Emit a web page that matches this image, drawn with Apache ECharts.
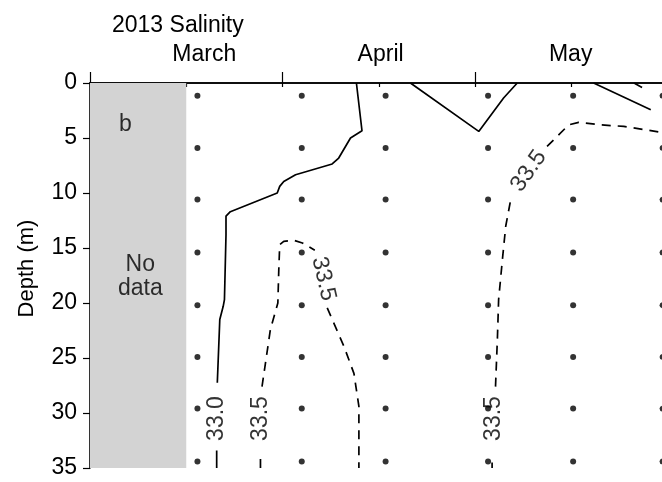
<!DOCTYPE html>
<html>
<head>
<meta charset="utf-8">
<script src="https://cdn.jsdelivr.net/npm/echarts@6/dist/echarts.min.js"></script>
<style>
  html, body { margin: 0; padding: 0; background: #fff; }
  #chart { width: 662px; height: 482px; }
</style>
</head>
<body>
<div id="chart"></div>
<script>
// Time axis: days since 1 March 2013; depth axis in metres (downward).
const months = ['March', 'April', 'May'];
const monthLabelDays = [18.4, 46.8, 77.4];
const monthStartDays = [0, 31, 62, 93];
const noDataDays = [0, 15.5];

// CTD sampling stations (dates) and sampled depths
const sampleDays = [17.3, 34.1, 47.6, 64.1, 77.8, 92.2];
const sampleDepths = [1.15, 5.9, 10.6, 15.4, 20.2, 24.9, 29.6, 34.4];

// 33.0 isohaline (solid)
const iso330Lower = [[20.4, 35], [20.4, 33.4]];
const iso330Upper = [
  [20.5, 27.25], [20.9, 21.5], [21.45, 20.3], [21.65, 19.7], [21.9, 13.8],
  [21.9, 12.1], [22.6, 11.7], [30.15, 10.0], [30.55, 9.4], [31.2, 8.95],
  [33.1, 8.34], [39.0, 7.36], [40.05, 6.82], [41.95, 5.0], [43.8, 4.34], [42.9, 0]
];
const iso330Notch = [[51.6, 0], [62.6, 4.4], [66.6, 1.36], [68.8, 0]];
const iso330East = [[81.1, 0], [90.3, 2.43]];
const iso330EastTip = [[87.6, 0], [88.9, 0.4]];

// 33.5 isohaline (dashed)
const iso335TongueLeftLower = [[27.45, 35], [27.45, 33.8]];
const iso335TongueArc = [
  [27.7, 27.6], [29.05, 22.4], [30.25, 20.0], [30.4, 17.0], [30.55, 14.7],
  [31.2, 14.4], [32.8, 14.3], [34.2, 14.55], [36.2, 15.2]
];
const iso335TongueRight = [
  [38.2, 20.45], [40.9, 23.95], [42.5, 26.4], [43.3, 29.4], [43.3, 35]
];
const iso335MayLower = [[64.75, 35], [64.75, 34.5]];
const iso335MayMid = [
  [65.3, 27.6], [65.6, 23.3], [65.8, 19.7], [66.4, 16.1], [66.95, 13.0], [67.75, 10.6]
];
const iso335MayUpper = [
  [73.6, 5.76], [77.1, 3.8], [78.7, 3.58], [82.2, 3.8], [85.95, 3.95],
  [89.45, 4.25], [92.2, 4.5], [100, 5.0]
];

// Contour labels
const contourLabelPoints = [[20.4, 30.5], [27.45, 30.5], [37.6, 17.8], [65.0, 30.5], [70.65, 8.0]];
const contourLabelTexts = ['33.0', '33.5', '33.5', '33.5', '33.5'];
const contourLabelAngles = [90, 90, -77, 90, 55];

const FONT = '"Liberation Sans", Arial, Helvetica, sans-serif';
const INK = '#000';
const FS = 23;

function contour(data, dashed) {
  return {
    type: 'line',
    data: data,
    showSymbol: false,
    symbol: 'none',
    smooth: false,
    clip: true,
    z: 4,
    silent: true,
    lineStyle: { color: INK, width: 1.7, type: dashed ? [9, 7] : 'solid' }
  };
}

const dots = [];
sampleDays.forEach(d => sampleDepths.forEach(z => dots.push([d, z])));

const labelData = contourLabelPoints.map((p, i) => ({
  value: p,
  label: { formatter: contourLabelTexts[i], rotate: contourLabelAngles[i] }
}));

const chart = echarts.init(document.getElementById('chart'), null, { renderer: 'canvas' });
chart.setOption({
  animation: false,
  backgroundColor: '#fff',
  title: {
    text: '2013 Salinity',
    left: 107, top: 9,
    textStyle: { fontFamily: FONT, fontSize: FS, fontWeight: 'normal', color: INK }
  },
  grid: { left: 90, top: 83, bottom: 14, width: 621, outerBoundsMode: 'none', containLabel: false },
  xAxis: [
    {
      type: 'value', position: 'bottom', min: 0, max: 100, interval: 15.5,
      axisLine: { show: true, lineStyle: { color: INK, width: 1.6 } },
      axisTick: { show: true, inside: false, length: 4, lineStyle: { color: INK, width: 1.2 } },
      axisLabel: { show: false },
      splitLine: { show: false }
    },
    {
      type: 'value', position: 'top', min: 0, max: 100,
      axisLine: { show: true, onZero: false, lineStyle: { color: INK, width: 1.6 } },
      axisTick: { show: true, length: 11, customValues: monthStartDays, lineStyle: { color: INK, width: 1.2 } },
      axisLabel: {
        show: true, customValues: monthLabelDays, margin: 17,
        formatter: v => months[monthLabelDays.indexOf(v)] || '',
        fontFamily: FONT, fontSize: FS, color: INK
      },
      splitLine: { show: false }
    }
  ],
  yAxis: {
    type: 'value', inverse: true, min: 0, max: 35, interval: 5,
    name: 'Depth (m)', nameLocation: 'middle', nameGap: 52,
    nameTextStyle: { fontFamily: FONT, fontSize: FS - 1, color: INK, padding: [0, 0, 0, 14] },
    axisLine: { show: true, onZero: false, lineStyle: { color: INK, width: 1.6 } },
    axisTick: { show: true, length: 7, lineStyle: { color: INK, width: 1.2 } },
    axisLabel: { fontFamily: FONT, fontSize: FS, color: INK, margin: 13 },
    splitLine: { show: false }
  },
  series: [
    {
      type: 'scatter',
      data: dots,
      symbol: 'circle',
      symbolSize: 6,
      itemStyle: { color: INK },
      z: 3,
      silent: true,
      markArea: {
        silent: true,
        itemStyle: { color: '#d3d3d3' },
        data: [[{ xAxis: noDataDays[0] }, { xAxis: noDataDays[1] }]]
      }
    },
    contour(iso330Lower, false),
    contour(iso330Upper, false),
    contour(iso330Notch, false),
    contour(iso330East, false),
    contour(iso330EastTip, false),
    contour(iso335TongueLeftLower, true),
    contour(iso335TongueArc, true),
    contour(iso335TongueRight, true),
    contour(iso335MayLower, true),
    contour(iso335MayMid, true),
    contour(iso335MayUpper, true),
    {
      type: 'scatter',
      data: labelData,
      symbolSize: 0,
      z: 5,
      silent: true,
      label: {
        show: true, position: 'inside', align: 'center', verticalAlign: 'middle',
        fontFamily: FONT, fontSize: 23, color: INK
      }
    },
    {
      type: 'scatter',
      data: [
        { value: [5.7, 3.8], label: { formatter: 'b' } },
        { value: [8.1, 17.6], label: { formatter: 'No\ndata', lineHeight: 24 } }
      ],
      symbolSize: 0,
      z: 5,
      silent: true,
      label: {
        show: true, position: 'inside', align: 'center', verticalAlign: 'middle',
        fontFamily: FONT, fontSize: 23, color: INK
      }
    }
  ]
});
</script>
</body>
</html>
